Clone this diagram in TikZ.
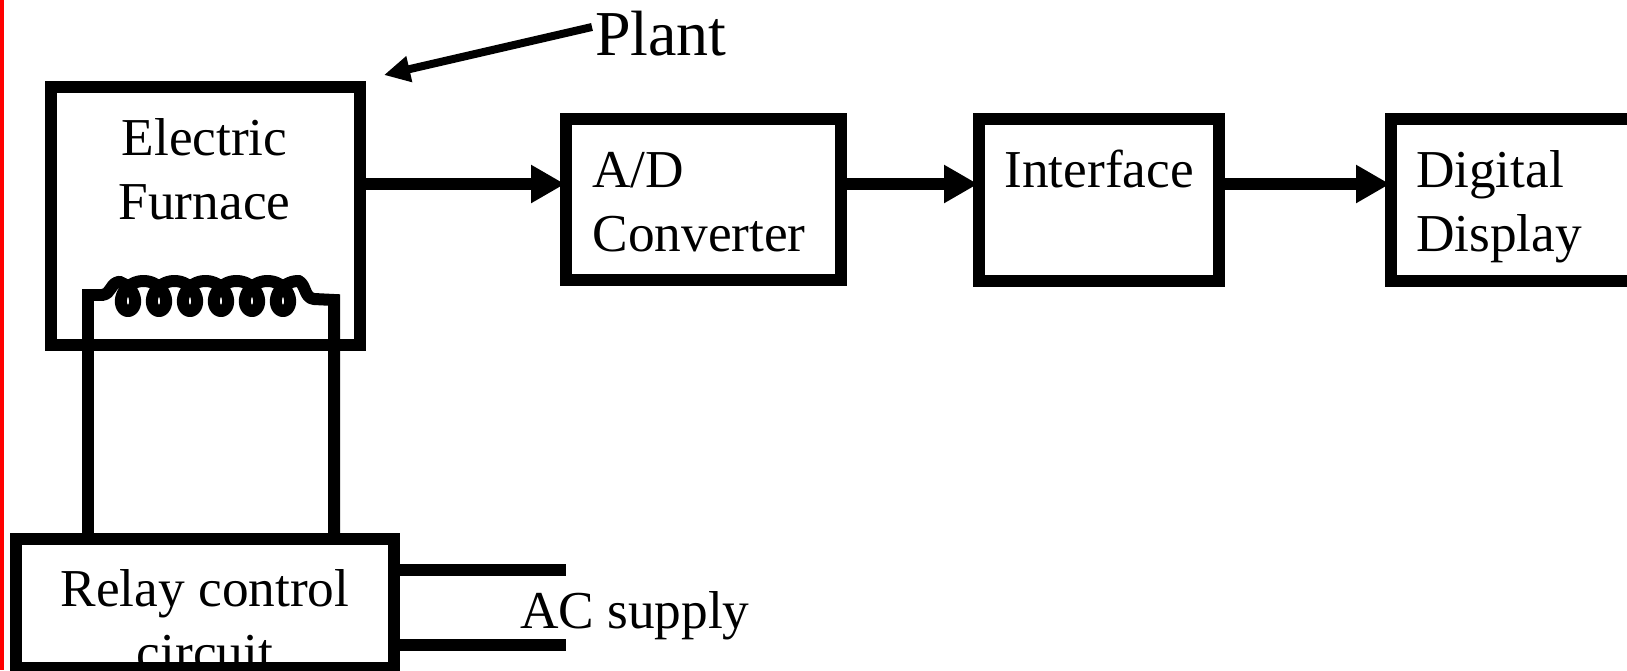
\documentclass[tikz,border=0pt]{standalone}
\usepackage{fontspec}
\setmainfont{Liberation Serif}
\usetikzlibrary{arrows.meta}
\tikzset{
  blockbox/.style={draw=black,line width=12pt,rectangle,inner sep=0pt,fill=none},
  wire/.style={draw=black,line width=12pt,line join=miter},
  coilwire/.style={draw=black,line width=12pt,line join=round,line cap=round},
  flow/.style={draw=black,line width=12pt,shorten >=-5pt,-{Triangle[length=34pt,width=36pt]}},
  pointer/.style={draw=black,line width=8pt,-{Triangle[length=26pt,width=25pt]}},
  lbl/.style={inner sep=0pt,outer sep=0pt,font=\fontsize{53.3}{64}\selectfont,anchor=base west},
  clbl/.style={inner sep=0pt,outer sep=0pt,font=\fontsize{53.3}{64}\selectfont,anchor=base},
  biglbl/.style={inner sep=0pt,outer sep=0pt,font=\fontsize{64}{70}\selectfont,anchor=base west}
}
\begin{document}
\begin{tikzpicture}[x=1pt,y=-1pt]
\useasboundingbox (0,0) rectangle (1627,670);
\clip (0,0) rectangle (1627,670);
\fill[white] (0,0) rectangle (1627,670);
\fill[red] (0,0) rectangle (3.5,670);
% texts
\node[clbl] (t1) at (204.5,155) {Electric};
\node[clbl] (t2) at (204.5,219) {Furnace};
\node[lbl] (t3) at (592.5,187) {A/D};
\node[lbl] (t4) at (592.5,251) {Converter};
\node[lbl] (t5) at (1004.5,187) {Interface};
\node[lbl] (t6) at (1416,187) {Digital};
\node[lbl] (t7) at (1416,251) {Display};
\node[clbl] (t8) at (205,606) {Relay control};
\node[clbl] (t9) at (205,670) {circuit};
\node[lbl] (t10) at (520,628) {AC supply};
\node[biglbl] (plant) at (595,55) {Plant};
% boxes
\node[blockbox,minimum width=309pt,minimum height=258pt] (furnace) at (205,216) {};
\node[blockbox,minimum width=275pt,minimum height=161pt] (ad) at (703.5,199.5) {};
\node[blockbox,minimum width=240pt,minimum height=162pt] (iface) at (1099,200) {};
\node[blockbox,minimum width=309pt,minimum height=162pt] (disp) at (1545.5,200) {};
\node[blockbox,minimum width=378pt,minimum height=129pt] (relay) at (205,603.5) {};
% helper coordinates
\coordinate (bus) at (0,184);
\coordinate (coilL) at (88,295);
\coordinate (coilR) at (334,300);
\coordinate (coilLin) at (102,295);
\coordinate (coilRin) at (314,299);
\coordinate (acA) at (566,569.5);
\coordinate (acB) at (566,645);
\coordinate (plantEnd) at (592,27);
\coordinate (plantTip) at (384,75);
% flow
\draw[flow] (furnace.east |- bus) -- (ad.west |- bus);
\draw[flow] (ad.east |- bus) -- (iface.west |- bus);
\draw[flow] (iface.east |- bus) -- (disp.west |- bus);
\draw[pointer] (plantEnd) -- (plantTip);
% wires
\draw[wire] (relay.north -| coilL) -- (coilL) -- (coilLin);
\draw[wire] (relay.north -| coilR) -- (coilR) -- (coilRin);
\draw[wire] (relay.east |- acA) -- (acA);
\draw[wire] (relay.east |- acB) -- (acB);
% coil
\draw[coilwire] (coilLin) .. controls (112,294) and (110,282) .. (120,282);
\draw[coilwire] plot[domain=20:2160,samples=300,smooth] ({112.5+0.08611*\x+14*sin(\x)},{296-15*cos(\x)});
\draw[coilwire] (298.5,281) .. controls (306,284) and (304,298) .. (coilRin);
\end{tikzpicture}
\end{document}
